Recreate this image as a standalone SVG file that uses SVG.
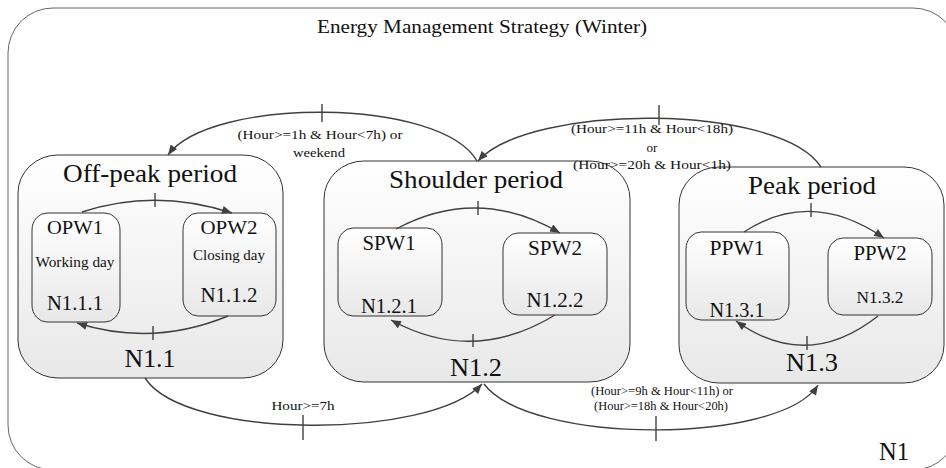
<svg xmlns="http://www.w3.org/2000/svg" width="946" height="468" viewBox="0 0 946 468">
<style>
text{font-family:"Liberation Serif","Times New Roman",serif;fill:#111;text-anchor:middle}
.frame{fill:#fff;stroke:#666;stroke-width:1}
.box{fill:url(#g);stroke:#333;stroke-width:1}
.sub{fill:url(#g);stroke:#333;stroke-width:1}
.edge{fill:none;stroke:#404040;stroke-width:1.4}
.tick{stroke:#404040;stroke-width:1.4}
.t1{font-size:26px}
.t2{font-size:20px}
.t3{font-size:14px}
.lb{font-size:13px}
.lb2{font-size:12px}
</style>
<defs>
<linearGradient id="g" x1="0" y1="0" x2="0" y2="1">
<stop offset="0" stop-color="#ffffff"/>
<stop offset="1" stop-color="#e8e8e8"/>
</linearGradient>
<marker id="ah" viewBox="0 0 10 8" refX="10" refY="4" markerWidth="11" markerHeight="8" markerUnits="userSpaceOnUse" orient="auto">
<path d="M0,0 L10,4 L0,8 Z" fill="#404040"/>
</marker>
</defs>
<g id="N1">
<rect class="frame" x="8" y="8" width="950" height="462" rx="45" ry="45"/>
<text x="482" y="33" font-size="19" textLength="330" lengthAdjust="spacingAndGlyphs">Energy Management Strategy (Winter)</text>
<text x="894" y="460" class="t1" textLength="30" lengthAdjust="spacingAndGlyphs">N1</text>
</g>
<g id="N1.1">
<rect class="box" x="18" y="155" width="265" height="223" rx="40" ry="38"/>
<text x="150" y="182" class="t1" textLength="174" lengthAdjust="spacingAndGlyphs">Off-peak period</text>
<text x="150" y="367" class="t1" textLength="51" lengthAdjust="spacingAndGlyphs">N1.1</text>
</g>
<g id="N1.1.1">
<rect class="sub" x="32" y="213" width="88" height="109" rx="15" ry="17"/>
<text x="75" y="234" font-size="19" textLength="56" lengthAdjust="spacingAndGlyphs">OPW1</text>
<text x="75" y="267" class="t3" textLength="79" lengthAdjust="spacingAndGlyphs">Working day</text>
<text x="75" y="310" class="t2" textLength="56" lengthAdjust="spacingAndGlyphs">N1.1.1</text>
</g>
<g id="N1.1.2">
<rect class="sub" x="183" y="213" width="93" height="103" rx="15" ry="17"/>
<text x="229" y="234" font-size="19" textLength="57" lengthAdjust="spacingAndGlyphs">OPW2</text>
<text x="229" y="260" class="t3" textLength="72" lengthAdjust="spacingAndGlyphs">Closing day</text>
<text x="229" y="302" class="t2" textLength="57" lengthAdjust="spacingAndGlyphs">N1.1.2</text>
</g>
<g id="N1.2">
<rect class="box" x="324" y="161" width="306" height="221" rx="40" ry="38"/>
<text x="476" y="188" class="t1" textLength="174" lengthAdjust="spacingAndGlyphs">Shoulder period</text>
<text x="476" y="376" class="t1" textLength="52" lengthAdjust="spacingAndGlyphs">N1.2</text>
</g>
<g id="N1.2.1">
<rect class="sub" x="338" y="228" width="104" height="88" rx="15" ry="17"/>
<text x="389" y="250" class="t2" textLength="53" lengthAdjust="spacingAndGlyphs">SPW1</text>
<text x="389" y="313" class="t2" textLength="56" lengthAdjust="spacingAndGlyphs">N1.2.1</text>
</g>
<g id="N1.2.2">
<rect class="sub" x="503" y="233" width="104" height="82" rx="15" ry="17"/>
<text x="555" y="255" class="t2" textLength="54" lengthAdjust="spacingAndGlyphs">SPW2</text>
<text x="555" y="307" class="t2" textLength="57" lengthAdjust="spacingAndGlyphs">N1.2.2</text>
</g>
<g id="N1.3">
<rect class="box" x="679" y="167" width="265" height="216" rx="40" ry="38"/>
<text x="812" y="194" class="t1" textLength="128" lengthAdjust="spacingAndGlyphs">Peak period</text>
<text x="812" y="371" class="t1" textLength="52" lengthAdjust="spacingAndGlyphs">N1.3</text>
</g>
<g id="N1.3.1">
<rect class="sub" x="686" y="232" width="103" height="88" rx="15" ry="17"/>
<text x="737" y="255" class="t2" textLength="55" lengthAdjust="spacingAndGlyphs">PPW1</text>
<text x="737" y="317" class="t2" textLength="55" lengthAdjust="spacingAndGlyphs">N1.3.1</text>
</g>
<g id="N1.3.2">
<rect class="sub" x="828" y="238" width="104" height="77" rx="15" ry="17"/>
<text x="880" y="260" class="t2" textLength="53" lengthAdjust="spacingAndGlyphs">PPW2</text>
<text x="880" y="303" font-size="17" textLength="47" lengthAdjust="spacingAndGlyphs">N1.3.2</text>
</g>
<g id="connectors">
<path class="edge" d="M82,212 Q155,188 232,213" marker-end="url(#ah)"/>
<line class="tick" x1="155" y1="193" x2="155" y2="207"/>
<path class="edge" d="M228,316 Q153,347 77,323" marker-end="url(#ah)"/>
<line class="tick" x1="153" y1="326" x2="153" y2="340"/>
<path class="edge" d="M396,229 Q478,185 560,233" marker-end="url(#ah)"/>
<line class="tick" x1="478" y1="201" x2="478" y2="215"/>
<path class="edge" d="M555,315 Q473,365 391,320" marker-end="url(#ah)"/>
<line class="tick" x1="473" y1="334" x2="473" y2="347"/>
<path class="edge" d="M744,232 Q811,188 884,238" marker-end="url(#ah)"/>
<line class="tick" x1="811" y1="203" x2="811" y2="217"/>
<path class="edge" d="M878,316 Q807,372 736,321" marker-end="url(#ah)"/>
<line class="tick" x1="807" y1="336" x2="807" y2="350"/>
<path class="edge" d="M477,161 C440,97 210,97 168,155" marker-end="url(#ah)"/>
<line class="tick" x1="322" y1="104" x2="322" y2="122"/>
<path class="edge" d="M821,167 C780,103 530,103 478,161" marker-end="url(#ah)"/>
<line class="tick" x1="659" y1="105" x2="659" y2="125"/>
<path class="edge" d="M145,378 C185,440 430,440 482,384" marker-end="url(#ah)"/>
<line class="tick" x1="303" y1="415" x2="303" y2="440"/>
<path class="edge" d="M484,384 C530,445 780,445 818,385" marker-end="url(#ah)"/>
<line class="tick" x1="656" y1="416" x2="656" y2="441"/>
<text x="320" y="139" class="lb" textLength="165" lengthAdjust="spacingAndGlyphs">(Hour&gt;=1h &amp; Hour&lt;7h) or</text>
<text x="319" y="157" class="lb" textLength="52" lengthAdjust="spacingAndGlyphs">weekend</text>
<text x="652" y="133" class="lb" textLength="162" lengthAdjust="spacingAndGlyphs">(Hour&gt;=11h &amp; Hour&lt;18h)</text>
<text x="652" y="152" class="lb">or</text>
<text x="652" y="169" class="lb" textLength="158" lengthAdjust="spacingAndGlyphs">(Hour&gt;=20h &amp; Hour&lt;1h)</text>
<text x="303" y="410" class="lb" textLength="63" lengthAdjust="spacingAndGlyphs">Hour&gt;=7h</text>
<text x="662" y="395" class="lb2" textLength="142" lengthAdjust="spacingAndGlyphs">(Hour&gt;=9h &amp; Hour&lt;11h) or</text>
<text x="661" y="410" class="lb2" textLength="134" lengthAdjust="spacingAndGlyphs">(Hour&gt;=18h &amp; Hour&lt;20h)</text>
</g>
</svg>
